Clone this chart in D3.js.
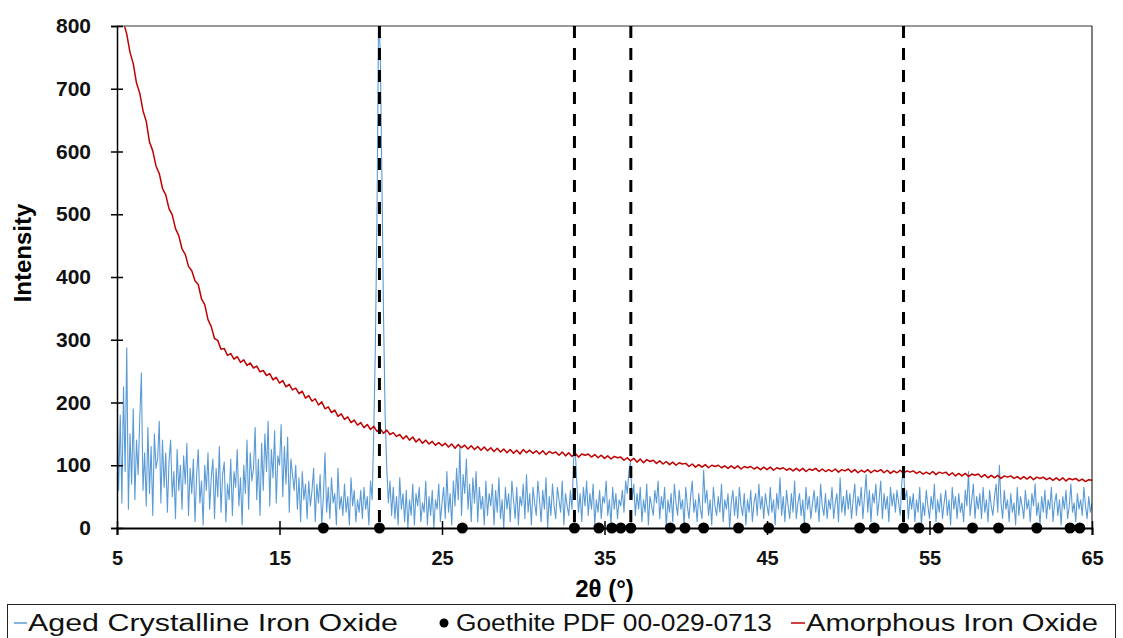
<!DOCTYPE html>
<html>
<head>
<meta charset="utf-8">
<script src="https://cdn.jsdelivr.net/npm/d3@7"></script>
<style>
    html, body { margin: 0; padding: 0; background: #fff; }
    svg { display: block; }
</style>
</head>
<body>
<div id="chart"></div>
<script>
// XRD pattern: aged crystalline vs amorphous iron oxide, goethite reference peaks

// sampling grid of each trace (2theta, degrees)
const blueStart = 5, blueStep = 0.1;
const redStart = 5, redStep = 0.2;

// Aged Crystalline Iron Oxide, one row per degree (x.0 .. x.9)
const crystallineIntensity = [
    215, 60, 180, 40, 225, 90, 287, 30, 150, 70,
    190, 45, 140, 85, 175, 247, 60, 120, 35, 160,
    55, 130, 20, 150, 95, 110, 170, 40, 140, 65,
    120, 25, 105, 140, 50, 90, 15, 125, 60, 100,
    30, 115, 70, 135, 20, 95, 55, 110, 10, 85,
    125, 40, 75, 5, 100, 60, 120, 30, 80, 110,
    15, 95, 50, 130, 25, 85, 105, 10, 70, 45,
    110, 20, 90, 65, 125, 35, 80, 5, 100, 55,
    140, 30, 120, 75, 95, 160, 45, 110, 20, 135,
    60, 150, 90, 170, 35, 125, 80, 155, 40, 115,
    100, 165, 50, 130, 70, 145, 25, 110, 85, 60,
    100, 30, 80, 10, 90, 45, 70, 15, 75, 35,
    60, 95, 10, 70, 40, 85, 5, 50, 120, 25,
    65, 15, 80, 40, 55, 5, 95, 30, 50, 20,
    70, 25, 50, 5, 80, 35, 60, 10, 45, 25,
    60, 15, 65, 30, 50, 5, 75, 45, 150, 290,
    500, 820, 760, 560, 340, 180, 95, 40, 75, 20,
    65, 15, 50, 5, 80, 30, 55, 10, 60, 0,
    45, 20, 70, 5, 55, 35, 65, 10, 40, 25,
    75, 5, 50, 20, 60, 0, 45, 30, 70, 10,
    40, 65, 15, 90, 25, 55, 5, 75, 35, 95,
    45, 130, 20, 85, 55, 110, 30, 70, 10, 80,
    40, 90, 10, 65, 30, 50, 5, 75, 20, 55,
    35, 70, 5, 60, 25, 80, 15, 45, 0, 65,
    30, 55, 10, 75, 45, 15, 65, 5, 50, 35,
    70, 15, 85, 25, 55, 5, 65, 40, 20, 75,
    45, 10, 60, 30, 80, 0, 50, 20, 70, 35,
    15, 65, 45, 25, 75, 5, 55, 35, 20, 60,
    30, 110, 125, 70, 25, 55, 10, 65, 35, 75,
    20, 55, 30, 70, 5, 45, 25, 60, 15, 50,
    40, 75, 20, 45, 5, 65, 30, 55, 15, 45,
    35, 60, 25, 75, 55, 90, 105, 45, 70, 20,
    55, 30, 65, 10, 45, 25, 70, 5, 50, 35,
    20, 60, 40, 75, 15, 50, 30, 65, 0, 45,
    25, 55, 10, 70, 40, 20, 60, 30, 45, 5,
    65, 35, 15, 50, 75, 25, 45, 10, 55, 30,
    15, 92, 40, 60, 20, 45, 5, 65, 35, 20,
    50, 25, 70, 10, 45, 30, 55, 0, 40, 60,
    20, 50, 15, 65, 35, 20, 55, 5, 45, 25,
    60, 10, 40, 55, 20, 70, 30, 50, 15, 55,
    35, 20, 65, 25, 45, 5, 55, 30, 80, 20,
    50, 10, 60, 35, 15, 55, 25, 75, 15, 40,
    55, 20, 45, 5, 65, 30, 50, 15, 40, 60,
    25, 50, 10, 70, 35, 20, 55, 15, 45, 30,
    65, 15, 40, 55, 10, 80, 25, 50, 20, 60,
    30, 55, 15, 45, 70, 20, 50, 35, 65, 15,
    50, 85, 25, 60, 10, 55, 40, 70, 20, 45,
    75, 15, 55, 30, 50, 10, 65, 35, 55, 25,
    60, 40, 20, 75, 95, 45, 60, 15, 50, 30,
    55, 10, 45, 25, 65, 5, 40, 20, 60, 35,
    15, 50, 30, 70, 10, 45, 25, 55, 15, 40,
    60, 20, 45, 5, 65, 30, 50, 15, 55, 25,
    40, 10, 60, 35, 90, 20, 45, 70, 15, 50,
    30, 55, 15, 65, 25, 45, 10, 60, 35, 20,
    50, 70, 25, 100, 40, 15, 60, 30, 45, 10,
    55, 25, 40, 5, 65, 20, 50, 35, 15, 60,
    30, 45, 10, 55, 35, 70, 20, 40, 5, 50,
    25, 60, 15, 45, 30, 65, 10, 40, 55, 20,
    45, 5, 50, 30, 60, 15, 35, 70, 25, 40,
    10, 55, 30, 45, 20, 65, 35, 15, 50, 25,
    40
];

// Amorphous Iron Oxide, one row per degree (x.0 .. x.8)
const amorphousIntensity = [
    890, 846, 806, 787, 758,
    740, 709, 693, 665, 648,
    615, 601, 577, 565, 541,
    531, 509, 499, 477, 466,
    445, 436, 417, 410, 394,
    388, 365, 356, 332, 321,
    302, 299, 285, 286, 275,
    278, 269, 273, 264, 268,
    259, 263, 255, 258, 249,
    251, 243, 246, 236, 240,
    231, 235, 225, 229, 220,
    223, 214, 218, 207, 211,
    202, 206, 196, 201, 190,
    193, 184, 188, 178, 182,
    173, 177, 168, 172, 164,
    168, 160, 165, 157, 162,
    154, 158, 151, 156, 149,
    152, 146, 149, 142, 147,
    140, 145, 137, 142, 135,
    140, 134, 138, 132, 136,
    131, 135, 129, 134, 127,
    133, 128, 132, 126, 131,
    125, 130, 124, 129, 123,
    128, 122, 127, 121, 126,
    120, 125, 119, 124, 118,
    125, 120, 124, 119, 123,
    118, 123, 117, 122, 119,
    121, 116, 121, 115, 120,
    114, 119, 113, 118, 116,
    118, 113, 117, 112, 116,
    111, 115, 110, 114, 112,
    113, 108, 112, 107, 111,
    105, 110, 104, 109, 106,
    108, 103, 107, 102, 106,
    101, 105, 100, 104, 102,
    103, 98, 102, 97, 101,
    97, 101, 96, 100, 98,
    100, 96, 99, 95, 99,
    95, 99, 94, 98, 96,
    98, 94, 97, 93, 97,
    93, 97, 92, 96, 94,
    96, 92, 95, 91, 95,
    91, 95, 90, 94, 92,
    95, 90, 94, 90, 93,
    90, 94, 89, 93, 91,
    94, 89, 93, 88, 92,
    89, 93, 88, 92, 90,
    93, 88, 92, 87, 91,
    88, 92, 87, 91, 89,
    91, 87, 90, 86, 89,
    86, 90, 85, 89, 87,
    89, 84, 88, 83, 87,
    83, 87, 82, 86, 84,
    86, 81, 85, 80, 84,
    80, 84, 79, 83, 81,
    83, 79, 82, 78, 82,
    78, 82, 77, 81, 79,
    81, 77, 80, 76, 80,
    76, 80, 75, 79, 77,
    79, 75, 78, 74, 77,
    76
];

// Goethite PDF 00-029-0713 reflections
const goethitePeaks = [17.7, 21.15, 26.25, 33.15, 34.65, 35.45, 36.0, 36.62, 39.05, 39.95,
    41.1, 43.25, 45.1, 47.35, 50.7, 51.6, 53.4, 54.35, 55.55, 57.65, 59.25, 61.6, 63.65, 64.25];
// reflections marked with dashed lines
const markedPeaks = [21.15, 33.15, 36.62, 53.4];

const xTicks = [5, 15, 25, 35, 45, 55, 65];
const yTicks = [0, 100, 200, 300, 400, 500, 600, 700, 800];
const legendLabels = ["Aged Crystalline Iron Oxide", "Goethite PDF 00-029-0713", "Amorphous Iron Oxide"];

const width = 1123;
const height = 638;
const margin = { left: 117, right: 31, top: 26, bottom: 110 };
const blueColor = "#5b9bd5";
const redColor = "#c00000";

const svg = d3.select("#chart").append("svg")
    .attr("width", width)
    .attr("height", height)
    .style("font-family", "'Liberation Sans', Arial, sans-serif");

const x = d3.scaleLinear().domain([5, 65]).range([margin.left, width - margin.right]);
const y = d3.scaleLinear().domain([0, 800]).range([height - margin.bottom, margin.top]);

svg.append("clipPath").attr("id", "plotClip")
    .append("rect")
    .attr("x", x(5)).attr("y", y(800))
    .attr("width", x(65) - x(5)).attr("height", y(0) - y(800));

const blueData = crystallineIntensity.map((v, i) => [blueStart + i * blueStep, v]);
const redData = amorphousIntensity.map((v, i) => [redStart + i * redStep, v]);

const line = d3.line().x(d => x(d[0])).y(d => y(d[1]));

const plot = svg.append("g").attr("clip-path", "url(#plotClip)");

plot.append("path")
    .datum(blueData)
    .attr("d", line)
    .attr("fill", "none")
    .attr("stroke", blueColor)
    .attr("stroke-width", 1.1)
    .attr("stroke-linejoin", "round");

plot.append("path")
    .datum(redData)
    .attr("d", line)
    .attr("fill", "none")
    .attr("stroke", redColor)
    .attr("stroke-width", 1.5)
    .attr("stroke-linejoin", "round");

// frame: grey top, black right
svg.append("line")
    .attr("x1", x(5)).attr("x2", x(65))
    .attr("y1", y(800)).attr("y2", y(800))
    .attr("stroke", "#777").attr("stroke-width", 1.5);
svg.append("line")
    .attr("x1", x(65)).attr("x2", x(65))
    .attr("y1", y(800)).attr("y2", y(0))
    .attr("stroke", "#000").attr("stroke-width", 1);

// dashed reference lines
svg.selectAll("line.peakLine")
    .data(markedPeaks)
    .enter()
    .append("line")
    .attr("class", "peakLine")
    .attr("x1", d => x(d)).attr("x2", d => x(d))
    .attr("y1", y(800)).attr("y2", y(0))
    .attr("stroke", "#000")
    .attr("stroke-width", 3)
    .attr("stroke-dasharray", "12,10");

// axes
const xAxis = svg.append("g")
    .attr("transform", "translate(0," + y(0) + ")")
    .call(d3.axisBottom(x).tickValues(xTicks).tickFormat(d3.format("d")).tickSize(7).tickPadding(16));
xAxis.select(".domain").attr("stroke", "#000").attr("stroke-width", 2);
xAxis.selectAll(".tick line").attr("y1", -7).attr("y2", 7).attr("stroke", "#000").attr("stroke-width", 1.5);
xAxis.selectAll(".tick text")
    .attr("font-size", 20).attr("font-weight", "bold").attr("fill", "#111")
    .style("font-family", "'Liberation Sans', Arial, sans-serif");

const yAxis = svg.append("g")
    .attr("transform", "translate(" + x(5) + ",0)")
    .call(d3.axisLeft(y).tickValues(yTicks).tickFormat(d3.format("d")).tickSize(6).tickPadding(20));
yAxis.select(".domain").attr("stroke", "#000").attr("stroke-width", 1.5);
yAxis.selectAll(".tick line").attr("x1", -6).attr("x2", 6).attr("stroke", "#000").attr("stroke-width", 1.5);
yAxis.selectAll(".tick text")
    .attr("font-size", 21).attr("font-weight", "bold").attr("fill", "#111")
    .style("font-family", "'Liberation Sans', Arial, sans-serif");

// goethite markers on the baseline
svg.selectAll("circle.goethite")
    .data(goethitePeaks)
    .enter()
    .append("circle")
    .attr("class", "goethite")
    .attr("cx", d => x(d))
    .attr("cy", y(0))
    .attr("r", 5.5)
    .attr("fill", "#000");

// axis titles
svg.append("text")
    .attr("x", x(35)).attr("y", 597)
    .attr("text-anchor", "middle")
    .attr("font-size", 24).attr("font-weight", "bold")
    .text("2θ (°)");

svg.append("text")
    .attr("transform", "translate(31,253) rotate(-90)")
    .attr("text-anchor", "middle")
    .attr("font-size", 24).attr("font-weight", "bold")
    .text("Intensity");

// legend
const legend = svg.append("g");
legend.append("rect")
    .attr("x", 7.5).attr("y", 604.5)
    .attr("width", 1108).attr("height", 60)
    .attr("fill", "#fff").attr("stroke", "#222").attr("stroke-width", 1);

const legendFont = "'Liberation Sans Narrow', 'Arial Narrow', 'Liberation Sans', sans-serif";
const legendItems = [
    { label: legendLabels[0], tx: 28, tw: 370 },
    { label: legendLabels[1], tx: 456, tw: 316 },
    { label: legendLabels[2], tx: 806, tw: 292 }
];
legend.selectAll("text.legendLabel")
    .data(legendItems)
    .enter()
    .append("text")
    .attr("class", "legendLabel")
    .attr("x", d => d.tx).attr("y", 631)
    .attr("font-size", 23)
    .attr("textLength", d => d.tw)
    .attr("lengthAdjust", "spacingAndGlyphs")
    .attr("fill", "#111")
    .style("font-family", legendFont)
    .text(d => d.label);

legend.append("line")
    .attr("x1", 14).attr("x2", 27).attr("y1", 623).attr("y2", 623)
    .attr("stroke", blueColor).attr("stroke-width", 1.5);
legend.append("circle")
    .attr("cx", 444).attr("cy", 623).attr("r", 4.5).attr("fill", "#000");
legend.append("line")
    .attr("x1", 791).attr("x2", 805).attr("y1", 623).attr("y2", 623)
    .attr("stroke", redColor).attr("stroke-width", 1.5);
</script>
</body>
</html>
